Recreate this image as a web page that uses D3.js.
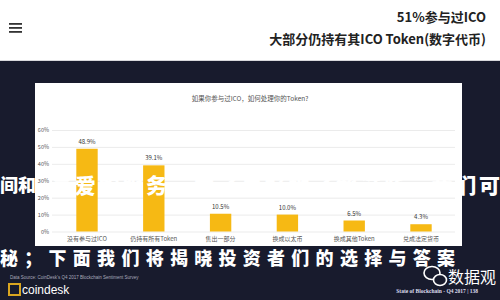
<!DOCTYPE html>
<html>
<head>
<meta charset="utf-8">
<script src="https://cdn.jsdelivr.net/npm/d3@7"></script>
<style>
  body { margin: 0; padding: 0; background: #fff; }
  svg { display: block; }
</style>
</head>
<body>
<div id="chart"></div>
<script>
var width = 500, height = 300;

// data
var categories = ["没有参与过ICO", "仍持有所有Token", "售出一部分", "换成以太币", "换成其他Token", "兑成法定货币"];
var values = [48.9, 39.1, 10.5, 10.0, 6.5, 4.3];
var yTicks = [0, 10, 20, 30, 40, 50, 60];

var headLines = ["51%参与过ICO", "大部分仍持有其ICO Token(数字代币)"];
var chartTitle = "如果你参与过ICO，如何处理你的Token?";
var overlayRow1 = ["间和", "喜爱的服务，为了更好地了解这些，我们可"];
var overlayRow2 = "秘；下面我们将揭晓投资者们的选择与答案";

var navy = "#181b2d", gold = "#f6b914";
var cjk = "'Noto Sans CJK SC', 'Noto Sans', sans-serif";

var svg = d3.select("#chart").append("svg")
    .attr("width", width)
    .attr("height", height);

// page background
svg.append("rect").attr("width", width).attr("height", height).attr("fill", "#fff");
svg.append("rect").attr("x", 0).attr("y", 61).attr("width", width).attr("height", height - 61).attr("fill", navy);
svg.append("line").attr("x1", 0).attr("x2", width).attr("y1", 60.5).attr("y2", 60.5)
    .attr("stroke", "#d8d8dc");

// hamburger icon
[24, 28, 32].forEach(function (yy) {
    svg.append("rect").attr("x", 9).attr("y", yy - 1).attr("width", 13).attr("height", 1.8)
        .attr("fill", "#333");
});

// header text
svg.selectAll(".head")
    .data(headLines)
    .enter().append("text")
    .attr("class", "head")
    .attr("x", 486)
    .attr("y", function (d, i) { return 22 + i * 22; })
    .attr("text-anchor", "end")
    .style("font-family", cjk)
    .style("font-weight", "bold")
    .style("font-size", "13px")
    .style("fill", "#222")
    .text(function (d) { return d; });

// white chart panel
var panel = { x: 35, y: 83, w: 427, h: 163 };
svg.append("rect")
    .attr("x", panel.x).attr("y", panel.y)
    .attr("width", panel.w).attr("height", panel.h)
    .attr("fill", "#fff");

svg.append("text")
    .attr("x", 250)
    .attr("y", 101)
    .attr("text-anchor", "middle")
    .style("font-family", cjk)
    .style("font-size", "6.5px")
    .style("fill", "#555")
    .text(chartTitle);

var x = d3.scaleBand()
    .domain(categories)
    .range([53.6, 454.4])
    .paddingInner(0.68)
    .paddingOuter(0.34);

var y = d3.scaleLinear()
    .domain([0, 60])
    .range([231.5, 130]);

// gridlines
var grid = svg.append("g")
    .attr("transform", "translate(52,0)")
    .call(d3.axisLeft(y).tickValues(yTicks).tickSize(-403).tickFormat(""));
grid.select(".domain").remove();
grid.selectAll("line").attr("stroke", "#e6e6e6").attr("stroke-width", 0.8);

// bars
svg.selectAll(".bar")
    .data(values)
    .enter().append("rect")
    .attr("class", "bar")
    .attr("x", function (d, i) { return x(categories[i]); })
    .attr("y", function (d) { return y(d); })
    .attr("width", x.bandwidth())
    .attr("height", function (d) { return y(0) - y(d); })
    .attr("fill", gold);

// brush-style caption overlay (sits over the bars)
function overlayText(str, x0, len, yy, size) {
    svg.append("text")
        .attr("class", "overlay")
        .attr("x", x0)
        .attr("y", yy)
        .attr("textLength", len)
        .attr("lengthAdjust", "spacing")
        .style("font-family", cjk)
        .style("font-weight", "900")
        .style("font-size", size + "px")
        .style("fill", "#fff")
        .text(str);
}
overlayText(overlayRow1[0], 0, 36, 192, 18);
overlayText(overlayRow1[1], 51, 449, 193, 21);
overlayText(overlayRow2, 0, 455, 265, 18);

// y labels
var yAxis = svg.append("g")
    .attr("transform", "translate(52,0)")
    .call(d3.axisLeft(y).tickValues(yTicks).tickSize(0).tickPadding(3)
        .tickFormat(function (d) { return d + "%"; }));
yAxis.select(".domain").remove();
yAxis.selectAll("text")
    .style("font-family", cjk)
    .style("font-size", "5.5px")
    .style("fill", "#555");

// value labels
svg.selectAll(".val")
    .data(values)
    .enter().append("text")
    .attr("class", "val")
    .attr("x", function (d, i) { return x(categories[i]) + x.bandwidth() / 2; })
    .attr("y", function (d) { return y(d) - 5; })
    .attr("text-anchor", "middle")
    .style("font-family", cjk)
    .style("font-size", "6px")
    .style("fill", "#333")
    .text(function (d) { return d.toFixed(1) + "%"; });

// category labels
var xAxis = svg.append("g")
    .attr("transform", "translate(0,231.5)")
    .call(d3.axisBottom(x).tickSize(0).tickPadding(5));
xAxis.select(".domain").remove();
xAxis.selectAll("text")
    .style("font-family", cjk)
    .style("font-size", "6px")
    .style("fill", "#555");

// footer
svg.append("text")
    .attr("x", 10).attr("y", 279)
    .style("font-family", "'Liberation Sans', sans-serif")
    .style("font-size", "4.5px")
    .style("fill", "#aab")
    .text("Data Source: CoinDesk's Q4 2017 Blockchain Sentiment Survey");

svg.append("rect").attr("x", 9).attr("y", 284).attr("width", 11).attr("height", 11)
    .attr("fill", "none").attr("stroke", "#d9a520").attr("stroke-width", 2);
svg.append("text")
    .attr("x", 22).attr("y", 294)
    .style("font-family", "'Liberation Sans', sans-serif")
    .style("font-size", "12px")
    .style("fill", "#fff")
    .text("coindesk");

// wechat-like bubbles
svg.append("ellipse").attr("cx", 432).attr("cy", 273).attr("rx", 8).attr("ry", 6.5)
    .attr("fill", "none").attr("stroke", "#fff").attr("stroke-width", 1.6);
svg.append("ellipse").attr("cx", 440).attr("cy", 280).attr("rx", 6.5).attr("ry", 5.5)
    .attr("fill", navy).attr("stroke", "#fff").attr("stroke-width", 1.6);
svg.append("text")
    .attr("x", 448).attr("y", 283)
    .style("font-family", cjk)
    .style("font-size", "16px")
    .style("fill", "#fff")
    .text("数据观");
svg.append("text")
    .attr("x", 478).attr("y", 293)
    .attr("text-anchor", "end")
    .style("font-family", "'Liberation Serif', serif")
    .style("font-size", "5.5px")
    .style("font-weight", "bold")
    .style("fill", "#dde")
    .text("State of Blockchain - Q4 2017    |    138");
</script>
</body>
</html>
